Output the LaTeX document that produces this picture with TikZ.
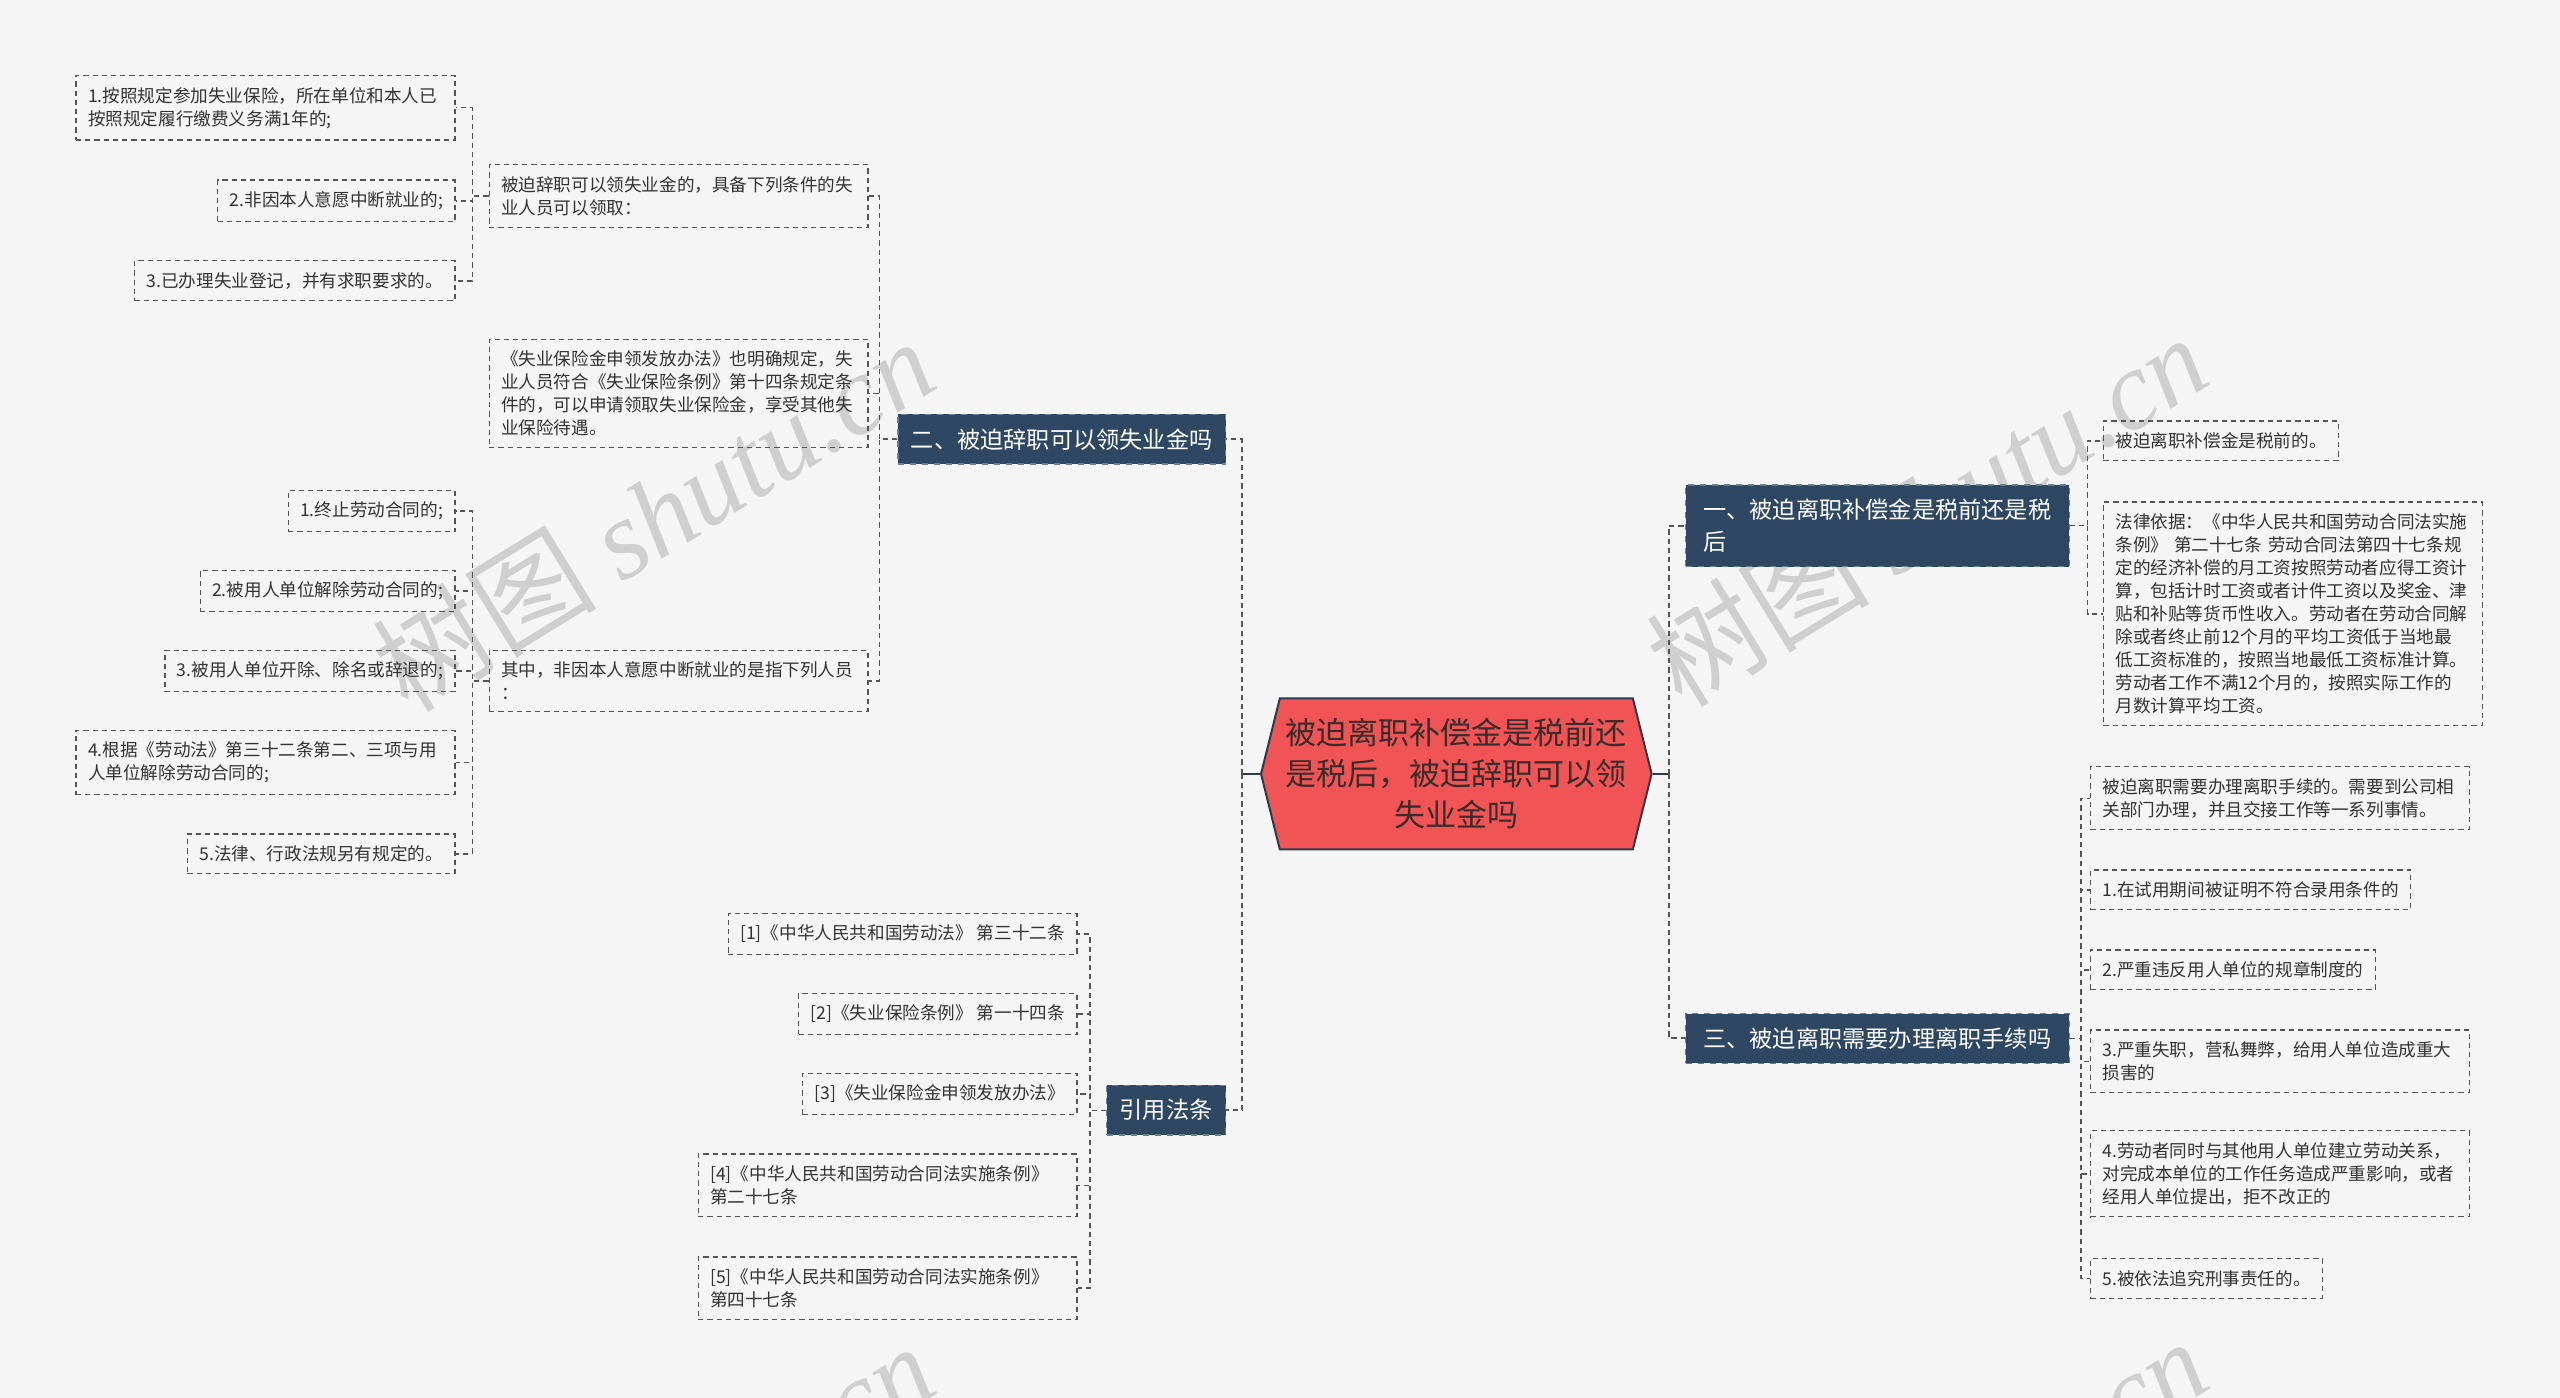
\documentclass[tikz,border=0pt]{standalone}
\usepackage{fontspec}
\setmainfont{Noto Sans CJK SC}
\newfontfamily\wmlatin{Liberation Serif}
\usetikzlibrary{shapes.symbols}
\definecolor{bgGray}{HTML}{F5F5F5}
\definecolor{hubRed}{HTML}{F05454}
\definecolor{hubEdge}{HTML}{2B3B4E}
\definecolor{hubText}{HTML}{3A2C2C}
\definecolor{branchBlue}{HTML}{2E4863}
\definecolor{branchEdge}{HTML}{6A7E92}
\definecolor{leafLine}{HTML}{555555}
\definecolor{leafText}{HTML}{333333}
\definecolor{wmGray}{HTML}{CFCFCF}
\newcommand{\LeafE}[5][]{\node[leaf, anchor=east, #1] (#2) at (#3,#4) {#5};}
\newcommand{\LeafW}[5][]{\node[leaf, anchor=west, #1] (#2) at (#3,#4) {#5};}

\begin{document}
\begin{tikzpicture}[x=0.8163pt,y=-0.8163pt,
    leaf/.style={draw=leafLine, line width=0.6pt, dash pattern=on 2.6pt off 2pt,
      align=left, inner xsep=6pt, inner ysep=5.8pt, text=leafText,
      font=\fontsize{8.8}{11.5}\selectfont},
    wide/.style={text width=177.4pt},
    branch/.style={fill=branchBlue, draw=branchEdge, line width=0.6pt, dashed,
      text=white, align=left, inner xsep=6.5pt, inner ysep=7pt,
      font=\fontsize{11.6}{16}\selectfont},
    link/.style={draw=leafLine, line width=0.7pt, dash pattern=on 2.6pt off 2pt},
    stem/.style={draw=hubEdge, line width=1pt},
    wmark/.style={text=wmGray, font=\fontsize{56}{56}\selectfont}]
    \useasboundingbox (0,0) rectangle (1568,856);
    \fill[bgGray] (0,0) rectangle (1568,856);
    % watermarks
    \node[wmark, rotate=31.6] (wm1) at (400,315) {树图 {\wmlatin\itshape shutu.cn}};
    \node[wmark, rotate=31.6] (wm2) at (1180,312) {树图 {\wmlatin\itshape shutu.cn}};
    \node[wmark, rotate=31.6] (wm3) at (400,930) {树图 {\wmlatin\itshape shutu.cn}};
    \node[wmark, rotate=31.6] (wm4) at (1180,927) {树图 {\wmlatin\itshape shutu.cn}};
    % centre
    \node[signal, signal to=west and east, signal pointer angle=152, fill=hubRed,
      draw=hubEdge, line width=1pt, align=center, text=hubText,
      inner xsep=3pt, inner ysep=10pt, font=\fontsize{15.5}{20.5}\selectfont]
      (hub) at (892,474) {被迫离职补偿金是税前还\\是税后，被迫辞职可以领\\失业金吗};
    % main branches
    \node[branch, anchor=west, minimum width=191.8pt] (b1) at (1032,322)
      {一、被迫离职补偿金是税前还是税\\后};
    \node[branch, anchor=east] (b2) at (751,269) {二、被迫辞职可以领失业金吗};
    \node[branch, anchor=west, minimum width=191.8pt] (b3) at (1032,636)
      {三、被迫离职需要办理离职手续吗};
    \node[branch, anchor=east] (b4) at (751,680) {引用法条};
    \draw[stem] (hub.west) -- ++(-11,0) coordinate (hubL);
    \draw[stem] (hub.east) -- ++(10,0) coordinate (hubR);
    \foreach \n in {b2,b4} \draw[link, line width=1pt] (hubL) |- (\n.east);
    \foreach \n in {b1,b3} \draw[link, line width=1pt] (hubR) |- (\n.west);
    % second branch
    \LeafE[wide]{m1}{532}{120}{被迫辞职可以领失业金的，具备下列条件的失\\业人员可以领取：}
    \LeafE[wide]{m2}{532}{241}{《失业保险金申领发放办法》也明确规定，失\\业人员符合《失业保险条例》第十四条规定条\\件的，可以申请领取失业保险金，享受其他失\\业保险待遇。}
    \LeafE[wide]{m3}{532}{417}{其中，非因本人意愿中断就业的是指下列人员\\：}
    \foreach \n in {m1,m2,m3} \draw[link] (b2.west) -- ++(-11,0) |- (\n.east);
    \LeafE[wide]{l11}{279}{66}{1.按照规定参加失业保险，所在单位和本人已\\按照规定履行缴费义务满1年的;}
    \LeafE{l12}{279}{123}{2.非因本人意愿中断就业的;}
    \LeafE{l13}{279}{172}{3.已办理失业登记，并有求职要求的。}
    \foreach \n in {l11,l12,l13} \draw[link] (m1.west) -- ++(-10,0) |- (\n.east);
    \LeafE{l21}{279}{313}{1.终止劳动合同的;}
    \LeafE{l22}{279}{362}{2.被用人单位解除劳动合同的;}
    \LeafE{l23}{279}{411}{3.被用人单位开除、除名或辞退的;}
    \LeafE[wide]{l24}{279}{467}{4.根据《劳动法》第三十二条第二、三项与用\\人单位解除劳动合同的;}
    \LeafE{l25}{279}{523}{5.法律、行政法规另有规定的。}
    \foreach \n in {l21,l22,l23,l24,l25} \draw[link] (m3.west) -- ++(-10,0) |- (\n.east);
    % cited articles
    \LeafE{r1}{660}{572}{[1]《中华人民共和国劳动法》 第三十二条}
    \LeafE{r2}{660}{621}{[2]《失业保险条例》 第一十四条}
    \LeafE{r3}{660}{670}{[3]《失业保险金申领发放办法》}
    \LeafE[wide]{r4}{660}{726}{[4]《中华人民共和国劳动合同法实施条例》\\第二十七条}
    \LeafE[wide]{r5}{660}{789}{[5]《中华人民共和国劳动合同法实施条例》\\第四十七条}
    \foreach \n in {r1,r2,r3,r4,r5} \draw[link] (b4.west) -- ++(-10,0) |- (\n.east);
    % first branch
    \LeafW{a1}{1288}{270}{被迫离职补偿金是税前的。}
    \LeafW[wide]{a2}{1288}{376}{法律依据：《中华人民共和国劳动合同法实施\\条例》 第二十七条 劳动合同法第四十七条规\\定的经济补偿的月工资按照劳动者应得工资计\\算，包括计时工资或者计件工资以及奖金、津\\贴和补贴等货币性收入。劳动者在劳动合同解\\除或者终止前12个月的平均工资低于当地最\\低工资标准的，按照当地最低工资标准计算。\\劳动者工作不满12个月的，按照实际工作的\\月数计算平均工资。}
    \foreach \n in {a1,a2} \draw[link] (b1.east) -- ++(11,0) |- (\n.west);
    % third branch
    \LeafW[wide]{c0}{1280}{489}{被迫离职需要办理离职手续的。需要到公司相\\关部门办理，并且交接工作等一系列事情。}
    \LeafW{c1}{1280}{545}{1.在试用期间被证明不符合录用条件的}
    \LeafW{c2}{1280}{594}{2.严重违反用人单位的规章制度的}
    \LeafW[wide]{c3}{1280}{650}{3.严重失职，营私舞弊，给用人单位造成重大\\损害的}
    \LeafW[wide]{c4}{1280}{719}{4.劳动者同时与其他用人单位建立劳动关系，\\对完成本单位的工作任务造成严重影响，或者\\经用人单位提出，拒不改正的}
    \LeafW{c5}{1280}{783}{5.被依法追究刑事责任的。}
    \foreach \n in {c0,c1,c2,c3,c4,c5} \draw[link] (b3.east) -- ++(7,0) |- (\n.west);
\end{tikzpicture}
\end{document}
